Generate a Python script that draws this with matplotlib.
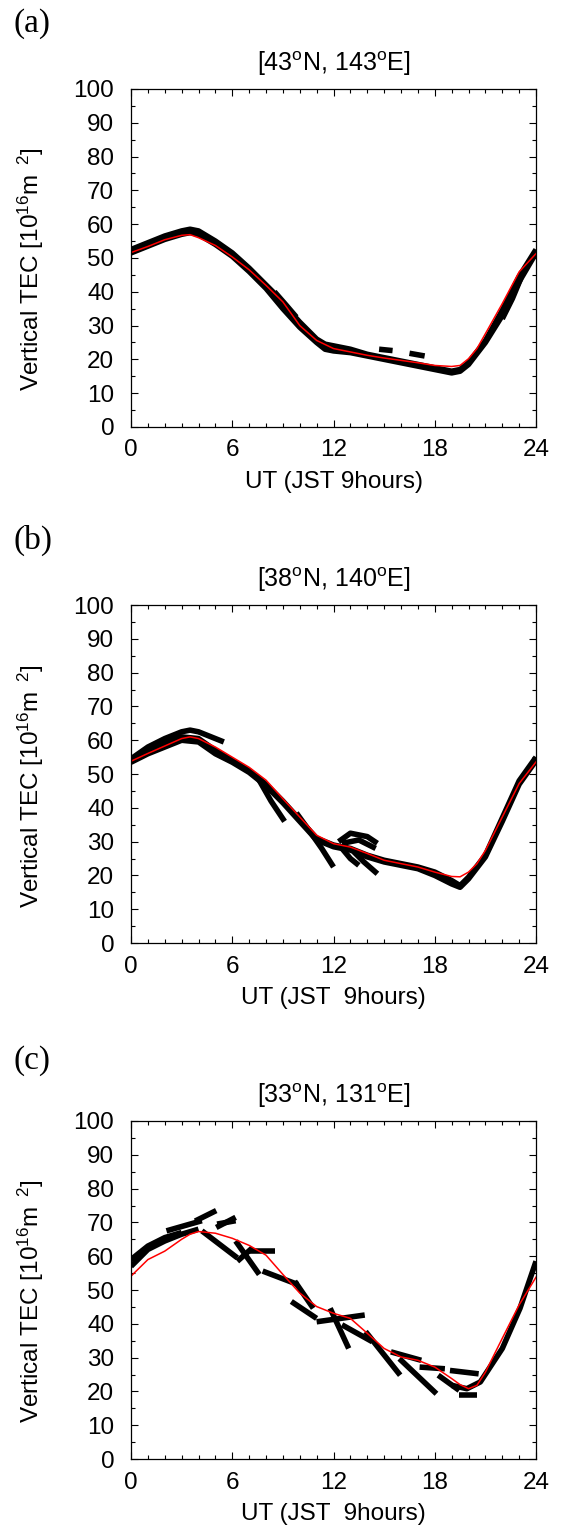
import matplotlib
matplotlib.use("Agg")
import matplotlib.pyplot as plt
from matplotlib.ticker import MultipleLocator

plt.rcParams['font.family'] = ['Liberation Sans', 'DejaVu Sans']
plt.rcParams['mathtext.fontset'] = 'custom'
plt.rcParams['mathtext.rm'] = 'Liberation Sans'
plt.rcParams['mathtext.it'] = 'Liberation Sans:italic'

# panel texts
panel_tags = ["(a)", "(b)", "(c)"]
titles = [r"[43$^{\mathrm{o}}$N, 143$^{\mathrm{o}}$E]",
          r"[38$^{\mathrm{o}}$N, 140$^{\mathrm{o}}$E]",
          r"[33$^{\mathrm{o}}$N, 131$^{\mathrm{o}}$E]"]
xlabels = ["UT (JST 9hours)", "UT (JST  9hours)", "UT (JST  9hours)"]
ylabel = r"Vertical TEC [10$^{16}$m$^{\ \ 2}$]"

# red model curve
red_hours = [0, 1, 2, 3, 3.5, 4, 5, 6, 7, 8, 9, 10, 11, 12, 13, 14, 15, 16,
             17, 18, 19, 19.5, 20, 20.5, 21, 22, 23, 24]
red_a = [51.6, 53.4, 55.4, 56.7, 56.9, 56.0, 53.7, 50.3, 46.5, 41.9, 37.0, 30.0,
         25.6, 23.2, 22.2, 21.2, 20.4, 19.7, 19.0, 18.2, 17.9, 18.2, 20.2, 23.2,
         27.6, 36.5, 45.9, 51.3]
red_b = [53.8, 56.1, 58.3, 60.5, 61.0, 60.5, 58.0, 55.0, 52.0, 48.2, 42.7, 37.3,
         31.9, 29.4, 28.4, 26.5, 24.5, 23.5, 22.5, 21.0, 19.7, 19.6, 21.0, 23.5,
         27.4, 37.3, 47.2, 53.6]
red_c = [54.1, 59.0, 61.5, 65.0, 66.5, 67.3, 66.8, 65.3, 63.2, 60.3, 54.6, 49.1,
         45.1, 43.1, 41.6, 37.2, 32.7, 30.2, 29.2, 27.2, 23.8, 22.0, 20.8, 21.8,
         25.7, 35.7, 45.6, 53.8]

# black satellite tracks (hours, TEC)
band_hours = [0, 1, 2, 3, 3.5, 4, 5, 6, 7, 8, 8.5, 9, 10, 11, 11.5, 12, 13, 14,
              15, 16, 17, 18, 19, 19.5, 20, 21, 22, 23, 24]
tracks_a = [
    (band_hours, [52.5, 54.5, 56.5, 58.0, 58.5, 58.0, 55.0, 51.5, 47.0, 42.0, 39.5,
                  36.5, 31.0, 26.0, 24.5, 24.0, 23.0, 21.5, 20.5, 19.5, 18.5, 17.5,
                  16.5, 17.0, 19.0, 25.5, 34.5, 44.5, 52.5]),
    (band_hours, [51.5, 53.5, 55.5, 57.0, 57.5, 57.0, 54.0, 50.5, 46.0, 41.0, 38.0,
                  35.0, 29.5, 25.0, 23.0, 22.5, 22.0, 21.0, 20.0, 19.0, 18.0, 17.0,
                  16.0, 16.5, 18.5, 25.0, 33.0, 43.0, 51.5]),
    ([8.5, 9.2, 9.8], [40.0, 36.0, 32.5]),
    ([11.3, 12.0, 13.0], [24.0, 23.0, 22.5]),
    ([14.7, 15.5], [23.0, 22.6]),
    ([16.5, 17.4], [21.8, 21.0]),
    ([22.0, 22.6, 23.1], [32.0, 38.0, 44.0]),
]
tracks_b = [
    ([0, 1, 2, 3, 3.5, 4, 5, 5.5], [54.5, 58.0, 60.5, 62.5, 63.0, 62.5, 60.5, 59.5]),
    ([0, 1, 2, 3, 4, 5, 6, 7, 8, 9, 10, 11, 12, 13, 14, 15, 16, 17, 18, 19, 19.5,
      20, 21, 22, 23, 24],
     [54.0, 56.5, 59.0, 61.0, 60.5, 57.0, 54.0, 51.0, 47.0, 42.0, 36.5, 31.0, 29.0,
      28.0, 26.0, 24.5, 23.5, 22.5, 21.0, 18.5, 17.0, 19.5, 26.0, 37.0, 48.0, 55.0]),
    ([0, 1, 2, 3, 4, 5, 6, 7, 8, 9, 10, 11, 12, 13, 14, 15, 16, 17, 18, 19, 19.5,
      20, 21, 22, 23, 24],
     [53.5, 56.0, 58.0, 60.0, 59.5, 56.0, 53.5, 50.5, 46.5, 41.5, 36.0, 30.5, 28.5,
      27.5, 25.5, 24.0, 23.0, 22.0, 20.0, 17.5, 16.5, 19.0, 25.5, 36.0, 47.0, 54.0]),
    ([7.5, 8.3, 9.1], [49.0, 42.0, 36.0]),
    ([9.8, 10.6, 11.3, 12.0], [38.5, 33.0, 28.0, 22.5]),
    ([12.3, 13.0, 14.0, 14.6], [30.0, 32.5, 31.5, 29.5]),
    ([12.5, 13.5, 14.5], [29.5, 30.5, 28.0]),
    ([13.2, 13.8, 14.6], [27.0, 24.0, 20.5]),
    ([12.5, 13.0, 13.5], [28.0, 25.0, 23.0]),
]
tracks_c = [
    ([0, 1, 2, 3, 4], [57.0, 62.0, 64.5, 66.5, 68.0]),
    ([0, 1, 2, 3], [59.0, 63.0, 65.5, 67.0]),
    ([2.1, 4.2], [67.5, 70.5]),
    ([3.8, 5.05], [70.4, 73.5]),
    ([5.05, 6.2], [68.5, 71.5]),
    ([5.1, 6.2], [69.5, 70.5]),
    ([4.2, 6.3], [67.5, 59.5]),
    ([6.2, 7.6], [64.5, 54.6]),
    ([6.3, 7.2], [58.5, 62.5]),
    ([6.95, 8.55], [61.5, 61.5]),
    ([7.8, 9.9], [55.6, 51.6]),
    ([9.7, 10.8], [52.6, 44.6]),
    ([9.5, 11.0], [46.6, 41.6]),
    ([11.0, 13.85], [40.6, 42.6]),
    ([11.8, 12.9], [44.6, 32.7]),
    ([12.5, 14.3], [39.7, 34.7]),
    ([13.9, 15.95], [37.7, 24.8]),
    ([15.4, 17.2], [31.7, 29.2]),
    ([15.9, 18.1], [29.7, 19.3]),
    ([17.1, 18.6], [27.2, 26.7]),
    ([18.9, 20.6], [26.2, 25.2]),
    ([18.2, 19.45], [24.8, 20.3]),
    ([19.0, 19.9, 20.7, 22.0, 23.05, 24.0], [21.8, 20.8, 22.8, 32.7, 44.6, 58.5]),
    ([19.45, 20.5], [18.8, 18.8]),
]

reds = [red_a, red_b, red_c]
tracks = [tracks_a, tracks_b, tracks_c]

fig = plt.figure(figsize=(5.63, 15.26), dpi=100)
bottoms = [0.7202, 0.382, 0.0439]
tag_y = [0.9948, 0.656, 0.315]

for i in range(3):
    ax = fig.add_axes([0.2327, bottoms[i], 0.7194, 0.2215])
    for tx, ty in tracks[i]:
        ax.plot(tx, ty, color='black', lw=4, solid_capstyle='butt')
    ax.plot(red_hours, reds[i], color='red', lw=1.1)

    ax.set_xlim(0, 24)
    ax.set_ylim(0, 100)
    ax.xaxis.set_major_locator(MultipleLocator(6))
    ax.xaxis.set_minor_locator(MultipleLocator(1))
    ax.yaxis.set_major_locator(MultipleLocator(10))
    ax.yaxis.set_minor_locator(MultipleLocator(5))
    ax.tick_params(which='both', direction='in', top=True, right=True, labelsize=17.5)
    ax.tick_params(which='major', length=5, width=0.8)
    ax.tick_params(which='minor', length=2.7, width=0.8)
    ax.tick_params(axis='y', pad=12)
    ax.tick_params(axis='x', pad=9)
    for s in ax.spines.values():
        s.set_linewidth(0.9)

    ax.set_title(titles[i], fontsize=18, pad=13)
    ax.set_xlabel(xlabels[i], fontsize=17.5, labelpad=7)
    ax.set_ylabel(ylabel, fontsize=17.5)
    ax.yaxis.set_label_coords(-0.21, 0.465)

    fig.text(0.024, tag_y[i], panel_tags[i], fontsize=24, va='top', ha='left',
             family=['Liberation Serif', 'DejaVu Serif'])

fig.savefig("out.png", dpi=100)
